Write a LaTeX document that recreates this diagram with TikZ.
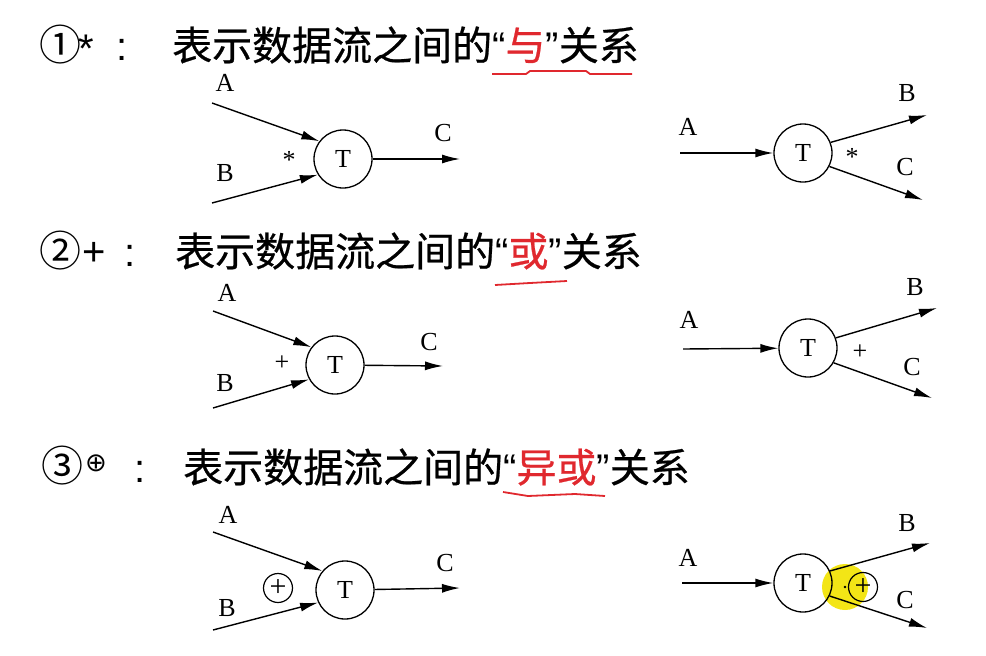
\documentclass[tikz,border=0pt]{standalone}
\usepackage{fontspec}
\setmainfont{Liberation Serif}
\newfontfamily\zhfont[FakeBold=0.6]{Noto Sans CJK SC}
\newfontfamily\numfont{Noto Sans CJK SC}
\newfontfamily\qfont{Liberation Sans}
\newfontfamily\symfont{DejaVu Sans}
\usepackage{tikz}
\usetikzlibrary{arrows.meta,positioning}
\usepackage{xcolor}
\definecolor{hred}{HTML}{E0282E}
\definecolor{spotyellow}{HTML}{F3E516}

\tikzset{
  proc/.style={circle,draw,line width=1.3pt,minimum size=58pt,inner sep=0pt,font=\fontsize{26}{26}\selectfont},
  flow/.style={line width=1.4pt,-{Latex[length=18pt,width=9pt]}},
  lbl/.style={inner sep=0pt,font=\fontsize{26}{26}\selectfont},
  xorsym/.style={circle,draw,line width=1.2pt,minimum size=29pt,inner sep=0pt,font=\fontsize{30}{30}\selectfont},
  head/.style={anchor=west,inner sep=0pt,font=\zhfont\fontsize{40}{44}\selectfont},
  num/.style={inner sep=0pt,font=\numfont\fontsize{42}{42}\selectfont},
  hsym/.style={anchor=base,inner sep=0pt,font=\qfont\fontsize{40}{44}\selectfont},
  uline/.style={hred,line width=1.8pt,line join=round}
}

\begin{document}
\begin{tikzpicture}[x=1pt,y=-1pt]
\useasboundingbox (0,0) rectangle (986,656);

% headings
\node[num] (N1) at (60,45) {①};
\node[hsym] (S1) at (86,62) {*};
\node[hsym] (K1) at (122,60) {:};
\node[head] (H1) at (172,45) {表示数据流之间的{\qfont“}\textcolor{hred}{与}{\qfont”}关系};
\draw[uline] (492,74) -- (526,74) -- (530,71) -- (586,71) -- (590,74) -- (632,74);

\node[num] (N2) at (60,251) {②};
\node[hsym] (S2) at (94,265) {+};
\node[hsym] (K2) at (130,266) {:};
\node[head] (H2) at (175,251) {表示数据流之间的{\qfont“}\textcolor{hred}{或}{\qfont”}关系};
\draw[uline] (495,285) -- (530,283) -- (567,281);

\node[num] (N3) at (62,466) {③};
\node[inner sep=0pt,font=\symfont\fontsize{26}{26}\selectfont] (S3) at (96,463) {⊕};
\node[hsym] (K3) at (140,482) {:};
\node[head] (H3) at (183,467) {表示数据流之间的{\qfont“}\textcolor{hred}{异或}{\qfont”}关系};
\draw[uline] (503,492) -- (528,496) -- (575,494) -- (605,496);

% row 1, left
\node[proc] (T1) at (343,159) {T};
\coordinate (a1) at (212,103);
\coordinate (b1) at (212,203);
\coordinate (c1) at (460,159);
\node[lbl] (A1) at (225,83) {A};
\node[lbl] (B1) at (225,173) {B};
\node[lbl] (C1) at (443,133) {C};
\node[lbl] (J1) at (289,160) {*};
\draw[flow] (a1) -- (T1.143);
\draw[flow] (b1) -- (T1.212);
\draw[flow] (T1) -- (c1);

% row 1, right
\node[proc] (T2) at (803,153) {T};
\coordinate (a2) at (680,153);
\coordinate (b2) at (927,115);
\coordinate (c2) at (923,200);
\node[lbl] (A2) at (688,127) {A};
\node[lbl] (B2) at (907,93) {B};
\node[lbl] (C2) at (905,167) {C};
\node[lbl] (J2) at (852,157) {*};
\draw[flow] (a2) -- (T2);
\draw[flow] (T2.21) -- (b2);
\draw[flow] (T2.333) -- (c2);

% row 2, left
\node[proc] (T3) at (335,365) {T};
\coordinate (a3) at (213,311);
\coordinate (b3) at (213,408);
\coordinate (c3) at (443,366);
\node[lbl] (A3) at (227,293) {A};
\node[lbl] (B3) at (225,383) {B};
\node[lbl] (C3) at (429,342) {C};
\node[lbl] (J3) at (282,363) {+};
\draw[flow] (a3) -- (T3.143);
\draw[flow] (b3) -- (T3.209);
\draw[flow] (T3) -- (c3);

% row 2, right
\node[proc] (T4) at (808,348) {T};
\coordinate (a4) at (683,349);
\coordinate (b4) at (937,308);
\coordinate (c4) at (932,398);
\node[lbl] (A4) at (689,320) {A};
\node[lbl] (B4) at (915,287) {B};
\node[lbl] (C4) at (912,367) {C};
\node[lbl] (J4) at (860,352) {+};
\draw[flow] (a4) -- (T4);
\draw[flow] (T4.20) -- (b4);
\draw[flow] (T4.330) -- (c4);

% row 3, left
\node[proc] (T5) at (345,590) {T};
\coordinate (a5) at (213,532);
\coordinate (b5) at (213,630);
\coordinate (c5) at (460,588);
\node[lbl] (A5) at (228,515) {A};
\node[lbl] (B5) at (227,608) {B};
\node[lbl] (C5) at (445,563) {C};
\node[xorsym] (X5) at (278,588) {+};
\draw[flow] (a5) -- (T5.140);
\draw[flow] (b5) -- (T5.205);
\draw[flow] (T5) -- (c5);

% row 3, right
\fill[spotyellow] (845,587) circle (23pt);
\node[proc] (T6) at (803,583) {T};
\coordinate (a6) at (682,583);
\coordinate (b6) at (930,543);
\coordinate (c6) at (927,628);
\node[lbl] (A6) at (688,558) {A};
\node[lbl] (B6) at (907,523) {B};
\node[lbl] (C6) at (905,600) {C};
\node[xorsym] (X6) at (863,587) {+};
\fill (845,587) circle (1.3pt);
\draw[flow] (a6) -- (T6);
\draw[flow] (T6.24) -- (b6);
\draw[flow] (T6.334) -- (c6);
\end{tikzpicture}
\end{document}
